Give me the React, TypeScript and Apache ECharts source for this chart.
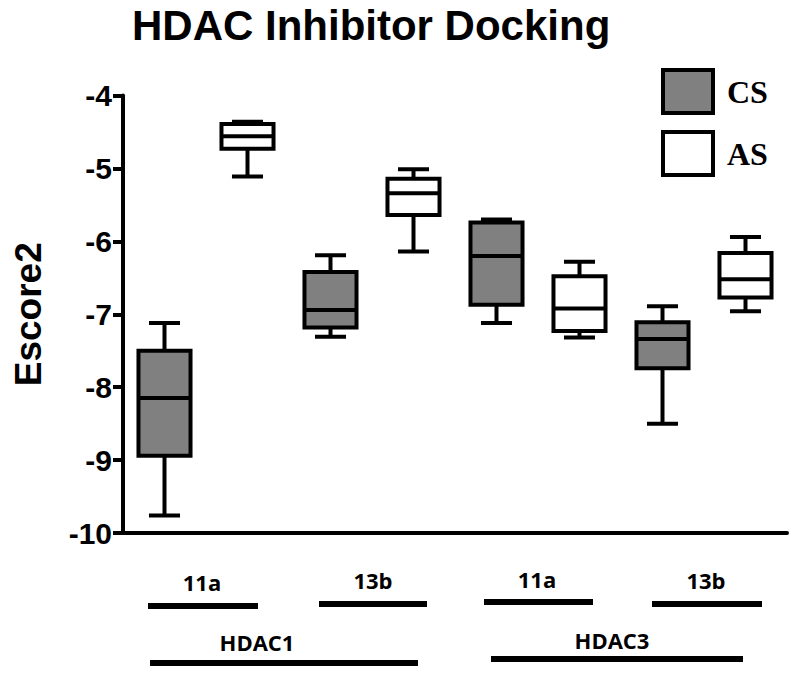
import React, { useEffect, useRef } from 'react';
import * as echarts from 'echarts';

// ---- data ----
const categories = [
  'HDAC1 11a CS', 'HDAC1 11a AS', 'HDAC1 13b CS', 'HDAC1 13b AS',
  'HDAC3 11a CS', 'HDAC3 11a AS', 'HDAC3 13b CS', 'HDAC3 13b AS',
];
const seriesNames = ['CS', 'AS'];
const compoundLabels = ['11a', '13b', '11a', '13b'];
const targetLabels = ['HDAC1', 'HDAC3'];

const csIndex = [0, 2, 4, 6];
const csMin = [-9.76, -7.31, -7.12, -8.5];
const csQ1 = [-8.94, -7.18, -6.87, -7.74];
const csMedian = [-8.15, -6.94, -6.2, -7.34];
const csQ3 = [-7.5, -6.42, -5.74, -7.11];
const csMax = [-7.12, -6.19, -5.7, -6.89];

const asIndex = [1, 3, 5, 7];
const asMin = [-5.11, -6.14, -7.32, -6.96];
const asQ1 = [-4.73, -5.64, -7.23, -6.77];
const asMedian = [-4.56, -5.34, -6.92, -6.52];
const asQ3 = [-4.39, -5.14, -6.48, -6.16];
const asMax = [-4.36, -5.01, -6.28, -5.94];

const yMin = -10;
const yMax = -4;
const yStep = 1;

// ---- layout (annotation positions, not data) ----
const compoundTextPos = [
  [202, 582], [373, 580], [537, 579], [706, 580],
];
const compoundBarPos = [
  [148, 258, 606], [319, 427, 604], [484, 593, 602], [652, 762, 604],
];
const targetTextPos = [[257, 642], [612, 640]];
const targetBarPos = [[150, 418, 663], [491, 743, 659]];

const build = (idx: number[], mn: number[], q1: number[], md: number[], q3: number[], mx: number[]) =>
  idx.map((c, i) => [c, mn[i], q1[i], md[i], q3[i], mx[i]]);

const renderBox = (params: any, api: any) => {
  const x = api.value(0);
  const lo = api.coord([x, api.value(1)]);
  const q1 = api.coord([x, api.value(2)]);
  const md = api.coord([x, api.value(3)]);
  const q3 = api.coord([x, api.value(4)]);
  const hi = api.coord([x, api.value(5)]);
  const band = api.size([1, 0])[0];
  const bw = band * 0.627;
  const cw = band * 0.374;
  const cx = lo[0];
  const ls = { stroke: '#000', lineWidth: 4 };
  return {
    type: 'group',
    children: [
      { type: 'line', shape: { x1: cx, y1: hi[1], x2: cx, y2: q3[1] }, style: ls },
      { type: 'line', shape: { x1: cx, y1: q1[1], x2: cx, y2: lo[1] }, style: ls },
      { type: 'line', shape: { x1: cx - cw / 2, y1: hi[1], x2: cx + cw / 2, y2: hi[1] }, style: ls },
      { type: 'line', shape: { x1: cx - cw / 2, y1: lo[1], x2: cx + cw / 2, y2: lo[1] }, style: ls },
      {
        type: 'rect',
        shape: { x: cx - bw / 2, y: q3[1], width: bw, height: q1[1] - q3[1] },
        style: { fill: api.visual('color'), stroke: '#000', lineWidth: 4 },
      },
      { type: 'line', shape: { x1: cx - bw / 2, y1: md[1], x2: cx + bw / 2, y2: md[1] }, style: ls },
    ],
  };
};

export default function App() {
  const ref = useRef<HTMLDivElement>(null);
  useEffect(() => {
    if (!ref.current) return;
    const chart = echarts.init(ref.current, undefined, { renderer: 'svg' });
    const annFont = "'Open Sans', 'Noto Sans', sans-serif";
    const sans = "'Liberation Sans', Arial, sans-serif";
    const graphics: any[] = [];
    compoundLabels.forEach((t, i) => {
      graphics.push({
        type: 'text', x: compoundTextPos[i][0], y: compoundTextPos[i][1],
        style: { text: t, fill: '#000', font: `bold 22px ${annFont}`, textAlign: 'center', textVerticalAlign: 'middle' },
      });
      const b = compoundBarPos[i];
      graphics.push({ type: 'rect', shape: { x: b[0], y: b[2] - 3, width: b[1] - b[0], height: 6 }, style: { fill: '#000' } });
    });
    targetLabels.forEach((t, i) => {
      graphics.push({
        type: 'text', x: targetTextPos[i][0], y: targetTextPos[i][1],
        style: { text: t, fill: '#000', font: `bold 22px ${annFont}`, textAlign: 'center', textVerticalAlign: 'middle' },
      });
      const b = targetBarPos[i];
      graphics.push({ type: 'rect', shape: { x: b[0], y: b[2] - 3, width: b[1] - b[0], height: 6 }, style: { fill: '#000' } });
    });

    chart.setOption({
      animation: false,
      backgroundColor: '#fff',
      title: {
        text: 'HDAC Inhibitor Docking',
        left: 132,
        top: 4,
        padding: 0,
        textStyle: { fontFamily: sans, fontWeight: 'bold', fontSize: 42, color: '#000' },
      },
      legend: {
        orient: 'vertical',
        left: 661,
        top: 68,
        padding: 0,
        itemWidth: 50,
        itemHeight: 43,
        itemGap: 15,
        icon: 'rect',
        data: seriesNames,
        itemStyle: { borderColor: '#000', borderWidth: 4 },
        textStyle: {
          fontFamily: "'Liberation Serif', 'Times New Roman', serif",
          fontWeight: 'bold', fontSize: 32, color: '#000', padding: [0, 0, 0, 9],
        },
      },
      grid: { left: 123, right: 13, top: 95.5, bottom: 147, containLabel: false, outerBoundsMode: 'none' },
      xAxis: {
        type: 'category',
        data: categories,
        axisLine: { lineStyle: { color: '#000', width: 4 } },
        axisTick: { alignWithLabel: true, interval: 0, length: 14, lineStyle: { color: '#000', width: 4 } },
        axisLabel: { show: false },
        splitLine: { show: false },
      },
      yAxis: {
        type: 'value',
        min: yMin,
        max: yMax,
        interval: yStep,
        name: 'Escore2',
        nameLocation: 'middle',
        nameGap: 76,
        nameTextStyle: { fontFamily: sans, fontWeight: 'bold', fontSize: 37, color: '#000' },
        axisLine: { show: true, lineStyle: { color: '#000', width: 4 } },
        axisTick: { show: true, length: 10, lineStyle: { color: '#000', width: 4 } },
        axisLabel: { margin: 11, fontFamily: sans, fontWeight: 'bold', fontSize: 30, color: '#000' },
        splitLine: { show: false },
      },
      series: [
        {
          name: seriesNames[0],
          type: 'custom',
          renderItem: renderBox,
          itemStyle: { color: '#808080' },
          encode: { x: 0, y: [1, 2, 3, 4, 5] },
          data: build(csIndex, csMin, csQ1, csMedian, csQ3, csMax),
        },
        {
          name: seriesNames[1],
          type: 'custom',
          renderItem: renderBox,
          itemStyle: { color: '#ffffff' },
          encode: { x: 0, y: [1, 2, 3, 4, 5] },
          data: build(asIndex, asMin, asQ1, asMedian, asQ3, asMax),
        },
      ],
      graphic: graphics,
    });
    return () => chart.dispose();
  }, []);
  return <div ref={ref} style={{ position: 'absolute', left: 0, top: 0, width: 800, height: 680 }} />;
}
